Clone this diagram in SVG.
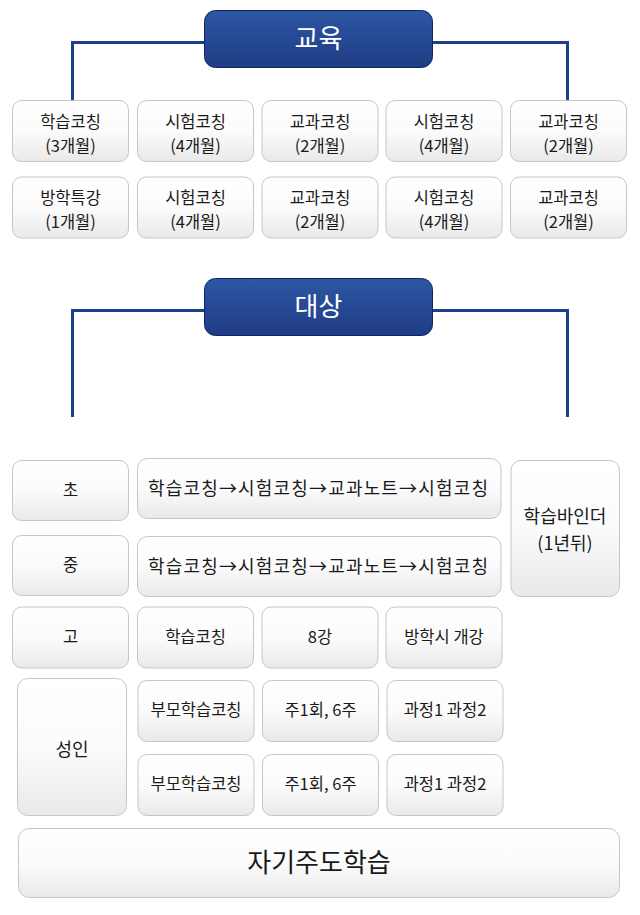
<svg xmlns="http://www.w3.org/2000/svg" width="640" height="915" viewBox="0 0 640 915">
<defs>
<linearGradient id="gHead" x1="0" y1="0" x2="0" y2="1">
<stop offset="0" stop-color="#2d57a3"/>
<stop offset="1" stop-color="#1f3c84"/>
</linearGradient>
<linearGradient id="gBox" x1="0" y1="0" x2="0" y2="1">
<stop offset="0" stop-color="#ffffff"/>
<stop offset="0.5" stop-color="#fbfbfb"/>
<stop offset="1" stop-color="#e9e9e9"/>
</linearGradient>
<style>
.head{fill:url(#gHead);stroke:#0d2466;stroke-width:1}
.box{fill:url(#gBox);stroke:#c6c6c6;stroke-width:1}
.conn{fill:none;stroke:#1f3f8a;stroke-width:3}
text{font-family:"Noto Sans CJK KR","Noto Sans",sans-serif;text-anchor:middle;font-weight:400}
.ht{fill:#ffffff;font-size:26px}
.t{fill:#1a1a1a;font-size:16.5px}
.tl{fill:#1a1a1a;font-size:18px}
.tb{fill:#1a1a1a;font-size:26px}
</style>
</defs>
<rect width="640" height="915" fill="#ffffff"/>
<g id="connectors">
<path class="conn" d="M72.5 100 V42.5 H567.5 V100"/>
<path class="conn" d="M72.5 417 V310.5 H567.5 V417"/>
</g>
<g id="edu-header"><rect class="head" x="204.5" y="10.5" width="228" height="57" rx="11"/><text class="ht" x="318.5" y="48">교육</text></g>
<g id="e1"><rect class="box" x="12.5" y="100.5" width="116" height="61" rx="9"/><text class="t" x="70.5" y="128">학습코칭</text><text class="t" x="70.5" y="151.5">(3개월)</text></g>
<g id="e2"><rect class="box" x="137.5" y="100.5" width="116" height="61" rx="9"/><text class="t" x="195.5" y="128">시험코칭</text><text class="t" x="195.5" y="151.5">(4개월)</text></g>
<g id="e3"><rect class="box" x="262" y="100.5" width="116" height="61" rx="9"/><text class="t" x="320" y="128">교과코칭</text><text class="t" x="320" y="151.5">(2개월)</text></g>
<g id="e4"><rect class="box" x="386" y="100.5" width="116" height="61" rx="9"/><text class="t" x="444" y="128">시험코칭</text><text class="t" x="444" y="151.5">(4개월)</text></g>
<g id="e5"><rect class="box" x="510.5" y="100.5" width="116" height="61" rx="9"/><text class="t" x="568.5" y="128">교과코칭</text><text class="t" x="568.5" y="151.5">(2개월)</text></g>
<g id="e6"><rect class="box" x="12.5" y="177" width="116" height="61" rx="9"/><text class="t" x="70.5" y="204">방학특강</text><text class="t" x="70.5" y="227.5">(1개월)</text></g>
<g id="e7"><rect class="box" x="137.5" y="177" width="116" height="61" rx="9"/><text class="t" x="195.5" y="204">시험코칭</text><text class="t" x="195.5" y="227.5">(4개월)</text></g>
<g id="e8"><rect class="box" x="262" y="177" width="116" height="61" rx="9"/><text class="t" x="320" y="204">교과코칭</text><text class="t" x="320" y="227.5">(2개월)</text></g>
<g id="e9"><rect class="box" x="386" y="177" width="116" height="61" rx="9"/><text class="t" x="444" y="204">시험코칭</text><text class="t" x="444" y="227.5">(4개월)</text></g>
<g id="e10"><rect class="box" x="510.5" y="177" width="116" height="61" rx="9"/><text class="t" x="568.5" y="204">교과코칭</text><text class="t" x="568.5" y="227.5">(2개월)</text></g>
<g id="target-header"><rect class="head" x="204.5" y="278.5" width="228" height="57" rx="11"/><text class="ht" x="318.5" y="316">대상</text></g>
<g id="elem"><rect class="box" x="12.5" y="460.5" width="116" height="60" rx="9"/><text class="t" x="70.5" y="496">초</text></g>
<g id="elem-course"><rect class="box" x="137.5" y="458.5" width="363.5" height="60" rx="10"/><text class="tl" x="318" y="495" textLength="340" lengthAdjust="spacing">학습코칭→시험코칭→교과노트→시험코칭</text></g>
<g id="mid"><rect class="box" x="12.5" y="535.5" width="116" height="60" rx="9"/><text class="t" x="70.5" y="571">중</text></g>
<g id="mid-course"><rect class="box" x="137.5" y="536.5" width="363.5" height="60" rx="10"/><text class="tl" x="318" y="573" textLength="340" lengthAdjust="spacing">학습코칭→시험코칭→교과노트→시험코칭</text></g>
<g id="binder"><rect class="box" x="511" y="460.5" width="108.5" height="136" rx="10"/><text class="tl" x="565" y="523">학습바인더</text><text class="tl" x="565" y="550">(1년뒤)</text></g>
<g id="high"><rect class="box" x="12.5" y="607" width="116" height="61" rx="9"/><text class="t" x="70.5" y="643">고</text></g>
<g id="high1"><rect class="box" x="137.5" y="607" width="116" height="61" rx="9"/><text class="t" x="195.5" y="643">학습코칭</text></g>
<g id="high2"><rect class="box" x="262" y="607" width="116" height="61" rx="9"/><text class="t" x="320" y="643">8강</text></g>
<g id="high3"><rect class="box" x="386" y="607" width="116" height="61" rx="9"/><text class="t" x="444" y="643">방학시 개강</text></g>
<g id="adult"><rect class="box" x="17.5" y="678.5" width="109" height="137" rx="10"/><text class="tl" x="72" y="756">성인</text></g>
<g id="a1"><rect class="box" x="138" y="680.5" width="116" height="61" rx="9"/><text class="t" x="196" y="716">부모학습코칭</text></g>
<g id="a2"><rect class="box" x="262.5" y="680.5" width="116" height="61" rx="9"/><text class="t" x="320.5" y="716">주1회, 6주</text></g>
<g id="a3"><rect class="box" x="387" y="680.5" width="116" height="61" rx="9"/><text class="t" x="445" y="716">과정1 과정2</text></g>
<g id="a4"><rect class="box" x="138" y="754.5" width="116" height="61" rx="9"/><text class="t" x="196" y="790">부모학습코칭</text></g>
<g id="a5"><rect class="box" x="262.5" y="754.5" width="116" height="61" rx="9"/><text class="t" x="320.5" y="790">주1회, 6주</text></g>
<g id="a6"><rect class="box" x="387" y="754.5" width="116" height="61" rx="9"/><text class="t" x="445" y="790">과정1 과정2</text></g>
<g id="self"><rect class="box" x="18.5" y="828.5" width="601" height="69" rx="11"/><text class="tb" x="319" y="872">자기주도학습</text></g>
</svg>
